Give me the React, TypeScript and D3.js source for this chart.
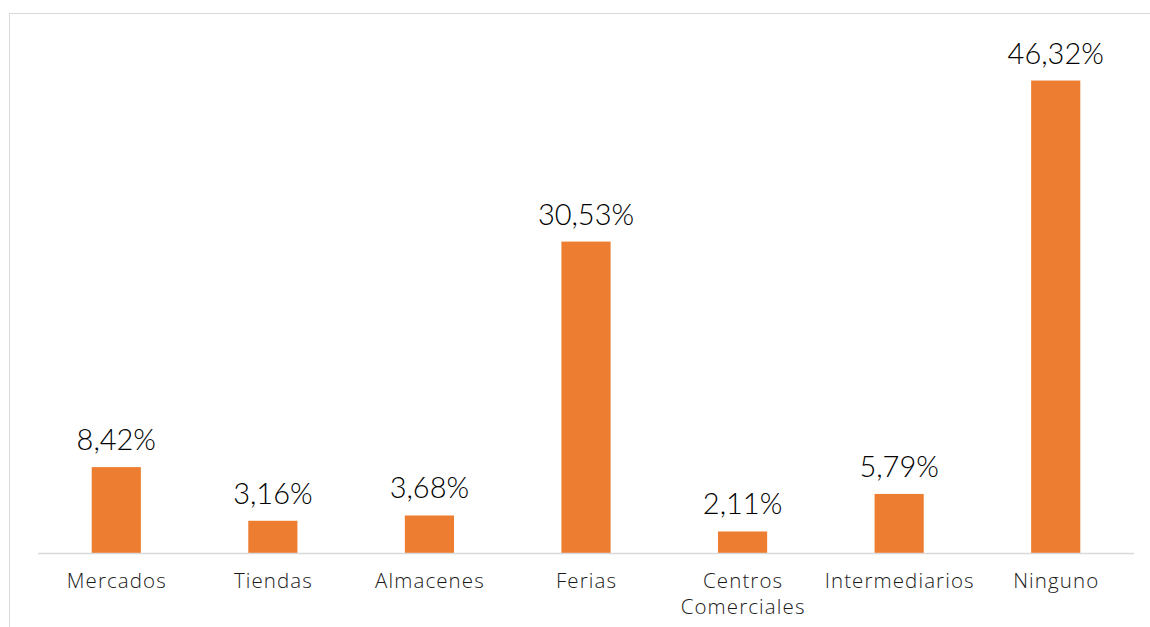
import React from "react";
import * as d3 from "d3";

const categories: string[][] = [
  ["Mercados"],
  ["Tiendas"],
  ["Almacenes"],
  ["Ferias"],
  ["Centros", "Comerciales"],
  ["Intermediarios"],
  ["Ninguno"],
];
const values: number[] = [8.42, 3.16, 3.68, 30.53, 2.11, 5.79, 46.32];
const valueLabels: string[] = ["8,42%", "3,16%", "3,68%", "30,53%", "2,11%", "5,79%", "46,32%"];

const W = 1150;
const H = 627;
const FONT = "Lato, 'Open Sans', sans-serif";
const CAT_FONT = "'Open Sans', Lato, sans-serif";

export default function App() {
  const keys = categories.map((c) => c.join(" "));
  const x = d3.scaleBand<string>().domain(keys).range([38, 1134]).paddingInner(0.686).paddingOuter(0.343);
  const y = d3.scaleLinear().domain([0, 50]).range([553, 43]);
  const ls = 1.1;
  return (
    <svg width={W} height={H} style={{ position: "absolute", left: 0, top: 0, background: "#fff" }}>
      <rect x={9.5} y={13.5} width={W + 10} height={H + 10} fill="#fff" stroke="#d9d9d9" strokeWidth={1} />
      {values.map((v, i) => {
        const k = keys[i];
        const bx = x(k)!;
        const bw = x.bandwidth();
        return (
          <g key={k}>
            <rect x={bx} y={y(v)} width={bw} height={y(0) - y(v)} fill="#ED7D31" />
            <text
              x={bx + bw / 2}
              y={y(v) - 17}
              textAnchor="middle"
              fontFamily={FONT}
              fontWeight={300}
              fontSize={29}
              fill="#000"
            >
              {valueLabels[i]}
            </text>
            {categories[i].map((line, j) => (
              <text
                key={j}
                x={bx + bw / 2 + ls / 2}
                y={588 + j * 26}
                textAnchor="middle"
                fontFamily={CAT_FONT}
                fontWeight={300}
                fontSize={20.5}
                letterSpacing={ls}
                fill="#1a1a1a"
              >
                {line}
              </text>
            ))}
          </g>
        );
      })}
      <line x1={38} x2={1134} y1={553.5} y2={553.5} stroke="#d9d9d9" strokeWidth={1.5} />
    </svg>
  );
}
